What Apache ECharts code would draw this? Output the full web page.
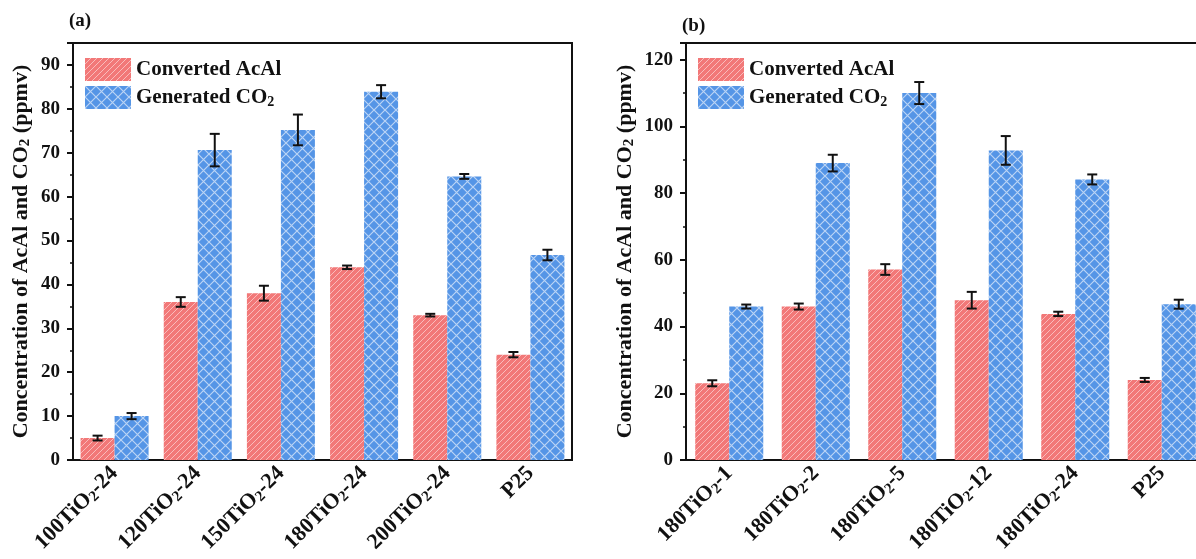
<!DOCTYPE html>
<html><head><meta charset="utf-8">
<script src="https://cdn.jsdelivr.net/npm/echarts@6/dist/echarts.min.js"></script>
<style>html,body{margin:0;padding:0;background:#fff}#c{width:1196px;height:559px}</style>
</head><body><div id="c"></div>
<script>
// ---------- data ----------
const catsA = ['100TiO2-24', '120TiO2-24', '150TiO2-24', '180TiO2-24', '200TiO2-24', 'P25'];
const acalA = [5.0, 36.0, 38.0, 43.9, 33.0, 24.0];
const acalErrA = [0.55, 1.1, 1.7, 0.4, 0.3, 0.6];
const co2A = [10.0, 70.6, 75.2, 83.9, 64.6, 46.7];
const co2ErrA = [0.7, 3.7, 3.5, 1.5, 0.55, 1.2];

const catsB = ['180TiO2-1', '180TiO2-2', '180TiO2-5', '180TiO2-12', '180TiO2-24', 'P25'];
const acalB = [23.0, 46.0, 57.1, 47.9, 43.8, 24.0];
const acalErrB = [0.9, 0.9, 1.6, 2.5, 0.65, 0.6];
const co2B = [46.0, 89.0, 110.0, 92.8, 84.1, 46.7];
const co2ErrB = [0.6, 2.5, 3.3, 4.3, 1.5, 1.35];

const yAxisA = { min: 0, max: 95, interval: 10 };
const yAxisB = { min: 0, max: 125, interval: 20 };
const seriesNames = ['Converted AcAl', 'Generated CO2'];
const yTitle = 'Concentration of AcAl and CO2 (ppmv)';
const panelLabels = ['(a)', '(b)'];

// ---------- styles ----------
const FONT = '"Liberation Serif", "Times New Roman", serif';
const BAR_W = 34;

function hatchPattern(bg) {
  const s = 6, c = document.createElement('canvas');
  c.width = s; c.height = s;
  const g = c.getContext('2d');
  g.fillStyle = bg; g.fillRect(0, 0, s, s);
  g.strokeStyle = 'rgba(255,255,255,0.5)'; g.lineWidth = 1;
  g.beginPath();
  for (let k = -1; k <= 1; k++) {
    g.moveTo(k * s, s); g.lineTo(k * s + s, 0);
  }
  g.stroke();
  return { image: c, repeat: 'repeat' };
}
function crossPattern(bg) {
  const s = 11, c = document.createElement('canvas');
  c.width = s; c.height = s;
  const g = c.getContext('2d');
  g.fillStyle = bg; g.fillRect(0, 0, s, s);
  g.strokeStyle = 'rgba(255,255,255,0.6)'; g.lineWidth = 1.2;
  g.beginPath();
  g.moveTo(0, 0); g.lineTo(s, s);
  g.moveTo(0, s); g.lineTo(s, 0);
  g.stroke();
  return { image: c, repeat: 'repeat' };
}
const redFill = hatchPattern('#F27878');
const blueFill = crossPattern('#5595E6');

function richWith(size, subSize) {
  return {
    m: { fontFamily: FONT, fontWeight: 'bold', color: '#111', fontSize: size, lineHeight: size + 2 },
    s: { fontFamily: FONT, fontWeight: 'bold', color: '#111', fontSize: subSize, lineHeight: subSize + 1, verticalAlign: 'bottom' }
  };
}
function subFmt(t) {
  const i = t.indexOf('O2');
  if (i < 0) return '{m|' + t + '}';
  return '{m|' + t.slice(0, i + 1) + '}{s|2}' + (t.slice(i + 2) ? '{m|' + t.slice(i + 2) + '}' : '');
}

function errSeries(gi, vals, errs, side) {
  return {
    type: 'custom', xAxisIndex: gi, yAxisIndex: gi, z: 10, silent: true,
    data: vals.map((v, i) => [i, v, errs[i]]),
    encode: { x: 0, y: 1 },
    renderItem(params, api) {
      const i = api.value(0), v = api.value(1), e = api.value(2);
      const hi = api.coord([i, v + e]), lo = api.coord([i, v - e]);
      const x = hi[0] + side * BAR_W / 2, cap = 5;
      const st = { stroke: '#111', lineWidth: 2 };
      return {
        type: 'group', children: [
          { type: 'line', shape: { x1: x, y1: hi[1], x2: x, y2: lo[1] }, style: st },
          { type: 'line', shape: { x1: x - cap, y1: hi[1], x2: x + cap, y2: hi[1] }, style: st },
          { type: 'line', shape: { x1: x - cap, y1: lo[1], x2: x + cap, y2: lo[1] }, style: st }
        ]
      };
    }
  };
}

function xAxis(gi, cats) {
  return {
    type: 'category', gridIndex: gi, data: cats,
    axisLine: { lineStyle: { color: '#111', width: 2 } },
    axisTick: { show: false },
    axisLabel: { rotate: 45, margin: 10, formatter: subFmt, rich: richWith(22, 15) }
  };
}
function yAxis(gi, cfg, gap) {
  return {
    type: 'value', gridIndex: gi, min: cfg.min, max: cfg.max, interval: cfg.interval,
    splitLine: { show: false },
    axisLine: { show: true, lineStyle: { color: '#111', width: 2 } },
    axisTick: { show: true, inside: false, length: 6, lineStyle: { color: '#111', width: 2 } },
    minorTick: { show: true, splitNumber: 2, length: 3, lineStyle: { color: '#111', width: 1.5 } },
    axisLabel: { showMaxLabel: false, margin: 13, fontFamily: FONT, fontWeight: 'bold', fontSize: 19, color: '#111' },
    name: subFmt(yTitle), nameLocation: 'middle', nameGap: gap,
    nameTextStyle: { rich: richWith(22, 15) }
  };
}
function legend(left) {
  return {
    left: left, top: 53, orient: 'vertical', itemWidth: 46, itemHeight: 23, itemGap: 5,
    icon: 'rect', data: seriesNames,
    formatter: subFmt,
    textStyle: { rich: richWith(21, 14) }
  };
}

const chart = echarts.init(document.getElementById('c'), null, { renderer: 'canvas' });
chart.setOption({
  animation: false,
  backgroundColor: '#fff',
  grid: [
    { left: 73, top: 43, width: 499, height: 417, show: true, borderColor: '#111', borderWidth: 2, containLabel: false, outerBoundsMode: 'none' },
    { left: 686, top: 43, width: 519, height: 417, show: true, borderColor: '#111', borderWidth: 2, containLabel: false, outerBoundsMode: 'none' }
  ],
  legend: [legend(80), legend(693)],
  xAxis: [xAxis(0, catsA), xAxis(1, catsB)],
  yAxis: [yAxis(0, yAxisA, 40), yAxis(1, yAxisB, 49)],
  graphic: [
    { type: 'text', left: 69, top: 12, style: { text: panelLabels[0], font: 'bold 19px ' + FONT, fill: '#111' } },
    { type: 'text', left: 682, top: 17, style: { text: panelLabels[1], font: 'bold 19px ' + FONT, fill: '#111' } }
  ],
  series: [
    { name: seriesNames[0], type: 'bar', xAxisIndex: 0, yAxisIndex: 0, data: acalA, barWidth: BAR_W, barGap: '0%', itemStyle: { color: redFill } },
    { name: seriesNames[1], type: 'bar', xAxisIndex: 0, yAxisIndex: 0, data: co2A, barWidth: BAR_W, barGap: '0%', itemStyle: { color: blueFill } },
    { name: seriesNames[0], type: 'bar', xAxisIndex: 1, yAxisIndex: 1, data: acalB, barWidth: BAR_W, barGap: '0%', itemStyle: { color: redFill } },
    { name: seriesNames[1], type: 'bar', xAxisIndex: 1, yAxisIndex: 1, data: co2B, barWidth: BAR_W, barGap: '0%', itemStyle: { color: blueFill } },
    errSeries(0, acalA, acalErrA, -1),
    errSeries(0, co2A, co2ErrA, 1),
    errSeries(1, acalB, acalErrB, -1),
    errSeries(1, co2B, co2ErrB, 1)
  ]
});
</script>
</body></html>
